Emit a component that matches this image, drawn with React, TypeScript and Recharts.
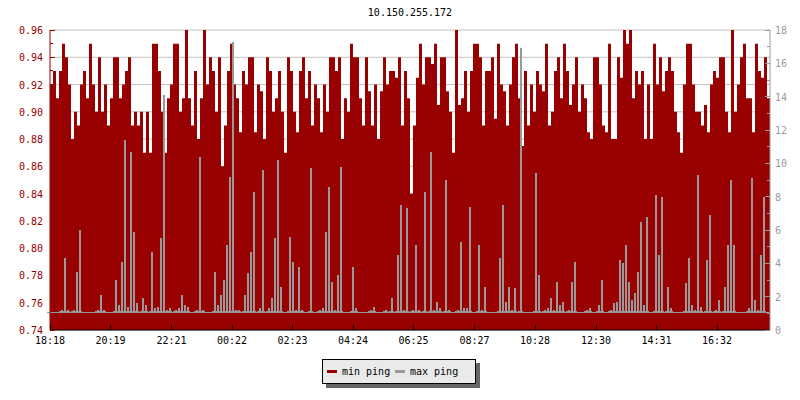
import React from "react";
import { ComposedChart, Area, Bar, XAxis, YAxis, CartesianGrid } from "recharts";

const title = "10.150.255.172";
const timeLabels = ["18:18", "20:19", "22:21", "00:22", "02:23", "04:24", "06:25", "08:27", "10:28", "12:30", "14:31", "16:32"];
const startMinute = 18 * 60 + 18;
const stepMinutes = 6; // one sample every 6 minutes over 24h

// min ping (left axis)
const minPing = [
  0.92, 0.93, 0.91, 0.93, 0.95, 0.94, 0.92, 0.88, 0.90, 0.89, 0.92, 0.93, 0.91, 0.95, 0.92, 0.90, 0.94, 0.90, 0.92, 0.89,
  0.91, 0.94, 0.94, 0.91, 0.92, 0.93, 0.94, 0.89, 0.90, 0.89, 0.90, 0.87, 0.90, 0.87, 0.95, 0.95, 0.93, 0.90, 0.87, 0.91,
  0.92, 0.95, 0.95, 0.90, 0.91, 0.96, 0.91, 0.89, 0.93, 0.88, 0.91, 0.96, 0.92, 0.94, 0.93, 0.90, 0.94, 0.86, 0.89, 0.93,
  0.95, 0.92, 0.91, 0.885, 0.93, 0.92, 0.94, 0.94, 0.885, 0.92, 0.915, 0.88, 0.94, 0.93, 0.90, 0.91, 0.93, 0.90, 0.87, 0.94,
  0.93, 0.90, 0.885, 0.93, 0.94, 0.91, 0.93, 0.89, 0.92, 0.91, 0.885, 0.92, 0.90, 0.94, 0.94, 0.93, 0.94, 0.88, 0.91, 0.90,
  0.95, 0.94, 0.94, 0.91, 0.89, 0.94, 0.915, 0.89, 0.92, 0.88, 0.915, 0.94, 0.92, 0.93, 0.93, 0.925, 0.94, 0.89, 0.93, 0.91,
  0.84, 0.89, 0.925, 0.95, 0.92, 0.94, 0.94, 0.935, 0.95, 0.905, 0.94, 0.94, 0.915, 0.90, 0.87, 0.96, 0.905, 0.91, 0.93, 0.90,
  0.93, 0.95, 0.95, 0.94, 0.89, 0.93, 0.93, 0.94, 0.895, 0.95, 0.92, 0.915, 0.89, 0.92, 0.94, 0.95, 0.91, 0.875, 0.93, 0.89,
  0.92, 0.90, 0.93, 0.92, 0.915, 0.95, 0.89, 0.90, 0.93, 0.94, 0.91, 0.95, 0.93, 0.905, 0.92, 0.94, 0.90, 0.92, 0.91, 0.885,
  0.88, 0.94, 0.94, 0.92, 0.89, 0.885, 0.95, 0.88, 0.88, 0.94, 0.925, 0.96, 0.95, 0.96, 0.91, 0.93, 0.92, 0.93, 0.88, 0.92,
  0.88, 0.95, 0.92, 0.94, 0.915, 0.93, 0.94, 0.93, 0.90, 0.885, 0.87, 0.92, 0.95, 0.95, 0.92, 0.90, 0.90, 0.89, 0.905, 0.885,
  0.92, 0.93, 0.925, 0.94, 0.94, 0.90, 0.885, 0.96, 0.90, 0.92, 0.94, 0.95, 0.91, 0.91, 0.885, 0.95, 0.93, 0.925, 0.94, 0.91,
];

// max ping (right axis)
const maxPing = [
  1.1, 1.1, 1.1, 1.1, 1.2, 4.3, 1.2, 1.1, 1.2, 3.5, 6.0, 1.1, 1.1, 1.1, 1.1, 1.1, 1.2, 2.1, 1.2, 1.1,
  1.1, 1.1, 3.0, 1.5, 4.1, 11.4, 1.4, 10.7, 5.9, 1.6, 1.1, 1.9, 1.5, 1.1, 4.7, 1.3, 1.4, 5.5, 14.1, 1.2,
  1.3, 1.1, 1.2, 1.3, 2.1, 1.5, 1.4, 1.1, 1.1, 1.2, 10.4, 1.2, 1.1, 1.1, 1.1, 3.5, 1.5, 2.1, 3.0, 5.1,
  9.2, 17.3, 1.2, 1.2, 1.1, 2.1, 3.4, 4.7, 8.3, 1.1, 1.3, 9.6, 1.1, 1.3, 1.9, 5.5, 10.2, 2.6, 1.1, 1.1,
  5.6, 4.1, 1.2, 3.8, 1.2, 1.1, 1.1, 9.7, 1.1, 1.1, 1.2, 1.3, 5.9, 8.6, 2.9, 1.2, 3.3, 9.8, 1.1, 1.1,
  1.1, 3.8, 1.3, 1.1, 1.1, 1.1, 1.1, 1.2, 1.4, 1.1, 1.1, 1.1, 1.2, 1.1, 1.9, 1.1, 4.5, 7.5, 1.2, 7.3,
  1.1, 1.2, 5.1, 1.2, 1.1, 8.3, 1.1, 10.7, 1.2, 1.7, 1.3, 1.1, 9.0, 1.2, 1.1, 1.1, 1.2, 5.3, 1.3, 1.3,
  7.4, 1.1, 1.1, 5.1, 1.2, 2.6, 1.1, 1.1, 1.1, 1.1, 4.3, 7.5, 1.7, 2.6, 1.2, 2.5, 1.1, 16.9, 1.1, 1.1,
  1.1, 1.1, 9.4, 3.3, 1.1, 1.2, 1.3, 1.9, 1.2, 2.9, 1.5, 1.7, 1.1, 1.2, 2.9, 4.1, 1.1, 1.1, 1.1, 1.2,
  1.3, 1.1, 1.1, 1.5, 3.0, 1.1, 1.1, 1.2, 1.6, 1.7, 4.2, 4.0, 5.1, 2.9, 1.8, 2.2, 3.5, 6.5, 1.5, 6.8,
  1.1, 1.1, 8.1, 4.5, 8.0, 1.1, 2.6, 1.3, 1.1, 1.1, 1.1, 1.1, 2.8, 4.3, 1.5, 1.2, 9.3, 1.4, 1.1, 4.2,
  6.9, 1.1, 1.2, 1.8, 1.1, 2.6, 5.1, 9.0, 5.1, 1.1, 1.1, 1.1, 1.1, 1.3, 9.1, 1.8, 1.2, 4.5, 8.0, 1.1,
];

const leftTicks = [0.74, 0.75, 0.76, 0.77, 0.78, 0.79, 0.8, 0.81, 0.82, 0.83, 0.84, 0.85, 0.86, 0.87, 0.88, 0.89, 0.9, 0.91, 0.92, 0.93, 0.94, 0.95, 0.96];
const leftMajor = [0.74, 0.76, 0.78, 0.8, 0.82, 0.84, 0.86, 0.88, 0.9, 0.92, 0.94, 0.96];
const rightTicks = [0, 1, 2, 3, 4, 5, 6, 7, 8, 9, 10, 11, 12, 13, 14, 15, 16, 17, 18];
const maxPingFloor = 1; // gray marks start here, red shows below

const RED = "#990000";
const GRAY = "#999999";
const FONT = "'DejaVu Sans Mono', monospace";

const toOffset = (label: string) => {
  const [h, m] = label.split(":").map(Number);
  return (h * 60 + m - startMinute + 1440) % 1440;
};
const timeTicks = timeLabels.map(toOffset);

const rows: { t: number; min: number; max: number | null }[] = minPing.map((v, i) => ({ t: i * stepMinutes, min: v, max: maxPing[i] }));
// carry the last min value to the right edge so the step area closes the day
rows.push({ t: 1440, min: minPing[minPing.length - 1], max: null });

const LeftTick = (props: any) => {
  const { x, y, payload } = props;
  const major = Math.round(payload.value * 100) % 2 === 0;
  return (
    <g>
      <line x1={x} x2={x + (major ? 5 : 3)} y1={y} y2={y} stroke={RED} shapeRendering="crispEdges" />
      {major && (
        <text x={x - 7} y={y} dy={4} textAnchor="end" fill={RED} fontSize={10} fontFamily={FONT}>
          {payload.value.toFixed(2)}
        </text>
      )}
    </g>
  );
};

const RightTick = (props: any) => {
  const { x, y, payload } = props;
  const major = payload.value % 2 === 0;
  return (
    <g>
      <line x1={x - (major ? 5 : 3)} x2={x} y1={y} y2={y} stroke={GRAY} shapeRendering="crispEdges" />
      {major && (
        <text x={x + 5} y={y} dy={4} textAnchor="start" fill={GRAY} fontSize={10} fontFamily={FONT}>
          {payload.value}
        </text>
      )}
    </g>
  );
};

const TimeTick = (props: any) => {
  const { x, y, payload } = props;
  const idx = timeTicks.indexOf(payload.value);
  return (
    <g>
      <line x1={x} x2={x} y1={y} y2={y - 5} stroke="#000" shapeRendering="crispEdges" />
      <text x={x} y={y + 14} textAnchor="middle" fill="#000" fontSize={10} fontFamily={FONT}>
        {timeLabels[idx]}
      </text>
    </g>
  );
};

// thin spike on top of a continuous base strip
const PingSpike = (props: any) => {
  const { x, y, width, height } = props;
  if (x == null || width == null || height == null || !(height > 0)) return null;
  const base = Math.max(Math.min(height, 2), 1.5);
  const mid = Math.round(x + width / 2 - 1);
  return (
    <g shapeRendering="crispEdges">
      <rect x={Math.floor(x) - 1} y={y + height - base} width={Math.ceil(width) + 2} height={base} fill={GRAY} />
      <rect x={mid} y={y} width={2} height={height} fill={GRAY} />
    </g>
  );
};

const legendItems = [
  { name: "min ping", color: RED },
  { name: "max ping", color: GRAY },
];

export default function App() {
  return (
    <div style={{ position: "absolute", left: 0, top: 0, width: 800, height: 400, background: "#fff", fontFamily: FONT }}>
      <div style={{ position: "absolute", left: 10, top: 7, width: 800, textAlign: "center", fontSize: 10, lineHeight: "12px" }}>
        {title}
      </div>
      <ComposedChart width={800} height={400} data={rows} margin={{ top: 30, right: 0, bottom: 50, left: 0 }} barCategoryGap={0}>
        <CartesianGrid yAxisId="left" vertical={false} horizontalValues={leftMajor} stroke="#c0c0c0" />
        <XAxis
          dataKey="t"
          type="number"
          domain={[0, 1440]}
          ticks={timeTicks}
          interval={0}
          height={20}
          tickSize={0}
          tickMargin={0}
          tickLine={false}
          axisLine={{ stroke: "#000" }}
          tick={<TimeTick />}
        />
        <YAxis
          yAxisId="left"
          orientation="left"
          width={50}
          domain={[0.74, 0.96]}
          ticks={leftTicks}
          interval={0}
          allowDataOverflow
          tickSize={0}
          tickMargin={0}
          tickLine={false}
          axisLine={{ stroke: RED }}
          tick={<LeftTick />}
        />
        <YAxis
          yAxisId="right"
          orientation="right"
          width={30}
          domain={[0, 18]}
          ticks={rightTicks}
          interval={0}
          allowDataOverflow
          tickSize={0}
          tickMargin={0}
          tickLine={false}
          axisLine={{ stroke: GRAY }}
          tick={<RightTick />}
        />
        <Area
          yAxisId="left"
          dataKey="min"
          type="stepAfter"
          fill={RED}
          fillOpacity={1}
          stroke="none"
          isAnimationActive={false}
        />
        <Bar
          yAxisId="right"
          dataKey={(r: any) => (r.max == null ? null : [maxPingFloor, r.max])}
          barSize={3}
          fill={GRAY}
          shape={<PingSpike />}
          isAnimationActive={false}
        />
      </ComposedChart>
      <div
        style={{
          position: "absolute",
          left: 322,
          top: 359,
          width: 154,
          height: 25,
          boxSizing: "border-box",
          background: "#eaeaea",
          border: "1px solid #000",
          boxShadow: "4px 4px 0 #666",
          fontSize: 10,
        }}
      >
        {legendItems.map((item, i) => (
          <div key={item.name} style={{ position: "absolute", left: 4 + i * 68, top: 0, height: 23, display: "flex", alignItems: "center" }}>
            <span style={{ display: "inline-block", width: 10, height: 3, background: item.color, marginRight: 5 }} />
            <span style={{ lineHeight: "23px" }}>{item.name}</span>
          </div>
        ))}
      </div>
    </div>
  );
}
